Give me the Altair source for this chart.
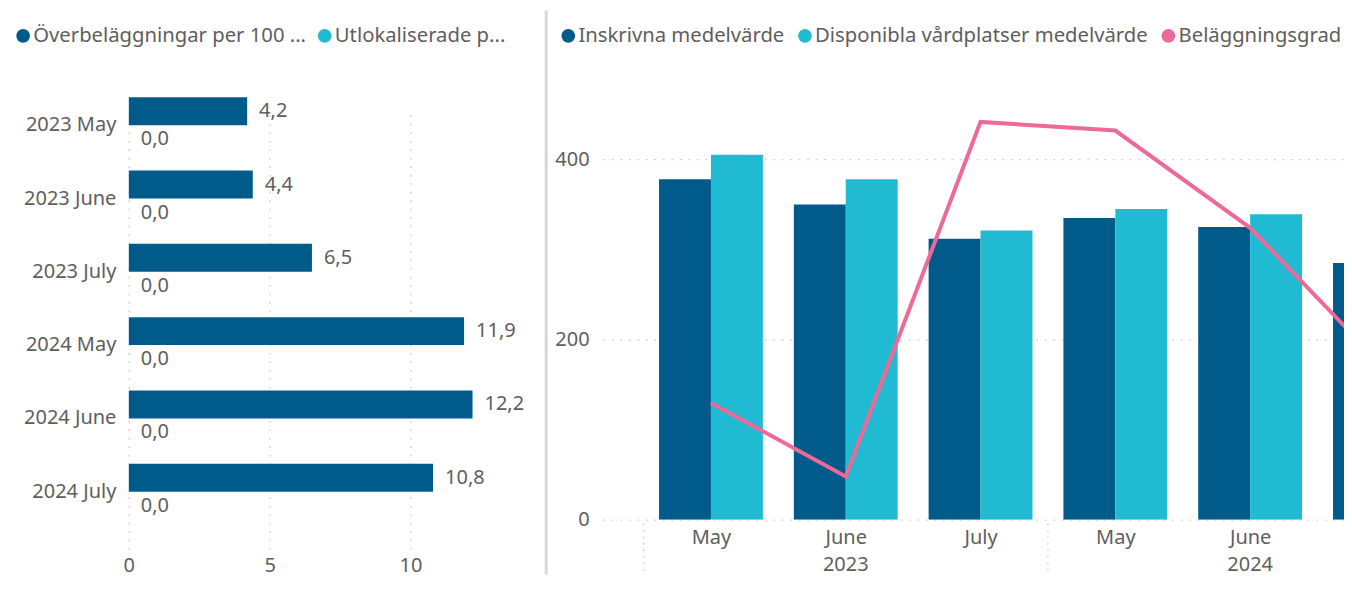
import altair as alt
import pandas as pd

# ---------------- data ----------------
months = ["2023 May", "2023 June", "2023 July", "2024 May", "2024 June", "2024 July"]

left_series = ["Överbeläggningar per 100 ...", "Utlokaliserade p..."]
overbelaggningar = [4.2, 4.4, 6.5, 11.9, 12.2, 10.8]
utlokaliserade = [0.0, 0.0, 0.0, 0.0, 0.0, 0.0]
left_ticks = [0, 5, 10]

right_series = ["Inskrivna medelvärde", "Disponibla vårdplatser medelvärde", "Beläggningsgrad"]
inskrivna = [378, 350, 312, 335, 325, 285]
disponibla = [405, 378, 321, 345, 339, 300]
belaggningsgrad = [85.4, 82.0, 98.4, 98.0, 93.5, 87.0]
right_ticks = [0, 200, 400]

# ---------------- style ----------------
FONT = "Noto Sans"
DARK = "#005B8A"
LIGHT = "#20BAD3"
PINK = "#EC6A98"
TEXT = "#605E5C"
GRID = "#C8C6C4"
AXIS_FS = 20
LEG_FS = 20.3

# ---------------- left panel ----------------
L_W, L_H = 395, 464
l_step = 73.4
l_pi = 0.237
l_r0 = 1.3

left_df = pd.DataFrame({
    "month": months * 2,
    "series": [left_series[0]] * len(months) + [left_series[1]] * len(months),
    "value": overbelaggningar + utlokaliserade,
})

ly = alt.Y("month:N", sort=months,
           scale=alt.Scale(range=[l_r0, l_r0 + len(months) * l_step],
                           paddingInner=l_pi, paddingOuter=l_pi / 2),
           axis=alt.Axis(title=None, domain=False, ticks=False, labelPadding=13,
                         labelFontSize=AXIS_FS, labelColor=TEXT, labelFont=FONT))
lyoff = alt.YOffset("series:N", sort=left_series,
                    scale=alt.Scale(paddingInner=0, paddingOuter=0))
lx = alt.X("value:Q", scale=alt.Scale(domain=[0, 14], nice=False, padding=0),
           axis=alt.Axis(values=left_ticks, title=None, domain=False, ticks=False,
                         grid=True, gridDash=[1.5, 7], gridColor=GRID, gridWidth=1.3,
                         labelPadding=5, labelFontSize=AXIS_FS, labelColor=TEXT,
                         labelFont=FONT, labelFlush=False))

legend_common = dict(title=None, orient="none", direction="horizontal", padding=0,
                     symbolType="circle", symbolSize=190, symbolStrokeWidth=0,
                     labelFontSize=LEG_FS, labelFont=FONT, labelColor=TEXT,
                     labelLimit=400, labelOffset=0)

left_bars = alt.Chart(left_df).mark_bar().encode(
    x=lx, y=ly, yOffset=lyoff,
    color=alt.Color("series:N",
                    scale=alt.Scale(domain=left_series, range=[DARK, LIGHT]),
                    legend=alt.Legend(legendX=-116, legendY=-62, columnPadding=8,
                                      **legend_common)),
)
left_labels = alt.Chart(left_df).transform_calculate(
    label="replace(format(datum.value, '.1f'), '.', ',')"
).mark_text(align="left", baseline="middle", dx=12, fontSize=AXIS_FS,
            color=TEXT, font=FONT).encode(
    x=alt.X("value:Q"), y=alt.Y("month:N", sort=months), yOffset=lyoff,
    text="label:N",
)
left = alt.layer(left_bars, left_labels).properties(width=L_W, height=L_H)

# ---------------- right panel ----------------
R_W, R_H = 742, 433
r_step = 135.0          # px per month
r_first = 108.0         # px from plot left to first month centre
BAR_W = 52
x_lo = -r_first / r_step
x_hi = x_lo + R_W / r_step

idx = list(range(len(months)))
years = [m.split(" ")[0] for m in months]
mnames = [m.split(" ")[1] for m in months]
month_expr = "[" + ",".join("'" + n + "'" for n in mnames) + "][datum.value]"

# year label under the middle month of each year group
year_idx, year_txt = [], []
for y in sorted(set(years), key=years.index):
    grp = [j for j in idx if years[j] == y]
    year_idx.append(grp[len(grp) // 2])
    year_txt.append(y)

# year boundaries (half a step before the first month of each year)
sep_pos = [i - 0.5 for i in idx if i == 0 or years[i] != years[i - 1]]

bars_df = pd.DataFrame({
    "idx": idx * 2,
    "series": [right_series[0]] * len(months) + [right_series[1]] * len(months),
    "value": inskrivna + disponibla,
})
line_df = pd.DataFrame({
    "idx": idx,
    "series": [right_series[2]] * len(months),
    "value": belaggningsgrad,
})
year_df = pd.DataFrame({"idx": year_idx, "year": year_txt})
sep_df = pd.DataFrame({"pos": sep_pos})
div_df = pd.DataFrame({"k": [0]})

rx = alt.X("idx:Q", scale=alt.Scale(domain=[x_lo, x_hi], nice=False, zero=False, padding=0),
           axis=alt.Axis(values=idx[:-1], title=None, domain=False, ticks=False,
                         grid=False, labelPadding=8, labelExpr=month_expr,
                         labelOverlap=False, labelFlush=False,
                         labelFontSize=AXIS_FS, labelColor=TEXT, labelFont=FONT))
ry = alt.Y("value:Q", scale=alt.Scale(domain=[0, 480], nice=False),
           axis=alt.Axis(values=right_ticks, title=None, domain=False, ticks=False,
                         grid=True, gridDash=[1.5, 7], gridColor=GRID, gridWidth=1.3,
                         labelPadding=14, labelFontSize=AXIS_FS, labelColor=TEXT,
                         labelFont=FONT))
rcolor = alt.Color("series:N", scale=alt.Scale(domain=right_series,
                                               range=[DARK, LIGHT, PINK]),
                   legend=alt.Legend(legendX=-45, legendY=-62, columnPadding=10,
                                     **legend_common))

bars_a = alt.Chart(bars_df).transform_filter(
    alt.datum.series == right_series[0]
).mark_bar(clip=True, size=BAR_W, xOffset=-BAR_W / 2).encode(x=rx, y=ry, color=rcolor)
bars_b = alt.Chart(bars_df).transform_filter(
    alt.datum.series == right_series[1]
).mark_bar(clip=True, size=BAR_W, xOffset=BAR_W / 2).encode(
    x=alt.X("idx:Q"), y=alt.Y("value:Q"), color=alt.Color("series:N"))
bars = alt.layer(bars_a, bars_b)

right_line = alt.Chart(line_df).mark_line(clip=True, strokeWidth=4).encode(
    x=alt.X("idx:Q"),
    y=alt.Y("value:Q", scale=alt.Scale(domain=[80, 100], nice=False), axis=None),
    color=alt.Color("series:N"),
)
year_labels = alt.Chart(year_df).mark_text(
    fontSize=AXIS_FS, color=TEXT, font=FONT, baseline="middle", align="center"
).encode(x=alt.X("idx:Q"), y=alt.value(R_H + 45), text="year:N")
year_seps = alt.Chart(sep_df).mark_rule(
    strokeDash=[1.5, 5], color=GRID, strokeWidth=1.3
).encode(
    x=alt.X("pos:Q"),
    y=alt.value(R_H + 4), y2=alt.value(R_H + 55),
)
divider = alt.Chart(div_df).mark_rule(color="#D9D9D9", strokeWidth=3).encode(
    x=alt.value(-57), y=alt.value(-77), y2=alt.value(R_H + 55),
)
right = alt.layer(bars, right_line, year_labels, year_seps, divider).resolve_scale(
    y="independent"
).properties(width=R_W, height=R_H)

chart = alt.hconcat(left, right, spacing=80, bounds="flush").resolve_scale(
    color="independent"
).resolve_legend(color="independent").properties(
    padding={"left": 5, "top": 0, "right": 0, "bottom": 3}
).configure_view(stroke=None)

chart.save("out.html", embed_options={"renderer": "svg", "actions": False})
